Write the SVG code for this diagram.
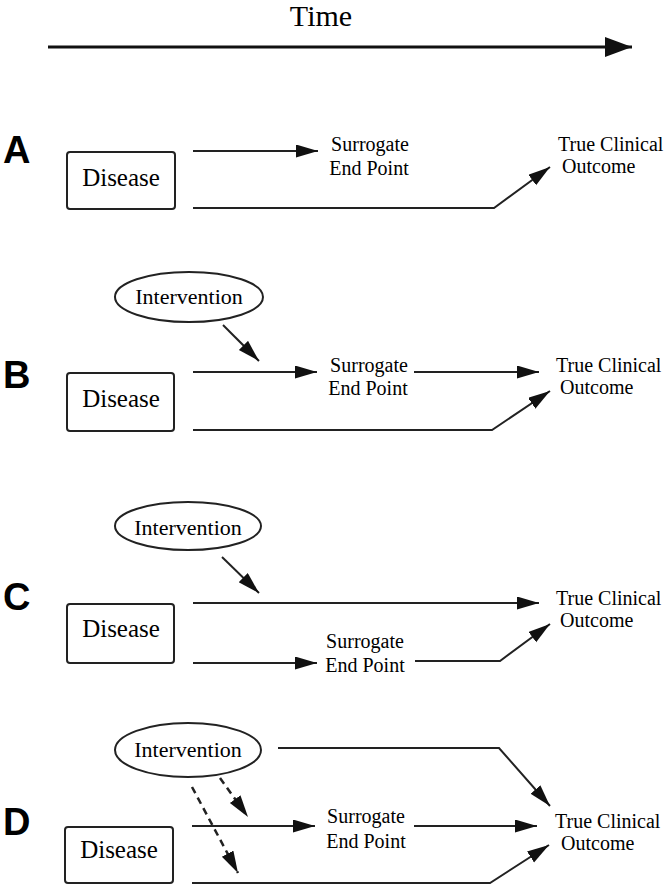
<svg xmlns="http://www.w3.org/2000/svg" width="664" height="891" viewBox="0 0 664 891">
<style>
.ser{font-family:"Liberation Serif","Times New Roman",serif;fill:#000}
.lbl{font-family:"Liberation Sans",Arial,sans-serif;font-weight:bold;font-size:38px;fill:#000}
.dz{font-size:25px;text-anchor:middle}
.iv{font-size:22px;text-anchor:middle}
.sm{font-size:20px}
.mid{text-anchor:middle}
.box{fill:#fff;stroke:#222;stroke-width:2}
.ell{fill:#fff;stroke:#222;stroke-width:2}
.ln{fill:none;stroke:#222;stroke-width:2}
.dash{fill:none;stroke:#222;stroke-width:2.5;stroke-dasharray:7 5}
</style>
<defs>
<marker id="ah" markerUnits="userSpaceOnUse" markerWidth="24" markerHeight="14" refX="22" refY="6.5" orient="auto">
<path d="M0,0 L22,6.5 L0,13 z" fill="#111"/>
</marker>
<marker id="big" markerUnits="userSpaceOnUse" markerWidth="30" markerHeight="22" refX="27" refY="10" orient="auto">
<path d="M0,0 L27,10 L0,20 z" fill="#111"/>
</marker>
</defs>

<g id="time">
<text class="ser mid" x="321" y="26" font-size="30">Time</text>
</g>

<g id="labels">
<text class="lbl" x="3" y="163">A</text>
<text class="lbl" x="3" y="388">B</text>
<text class="lbl" x="3" y="610">C</text>
<text class="lbl" x="3" y="835">D</text>
</g>

<g id="nodeA">
<g id="A-disease"><rect class="box" x="67" y="152" width="108" height="57" rx="3"/><text class="ser dz" x="121" y="186">Disease</text></g>
<g id="A-surrogate"><text class="ser sm mid" x="370" y="151">Surrogate</text><text class="ser sm mid" x="369" y="175">End Point</text></g>
<g id="A-outcome"><text class="ser sm" x="558" y="151">True Clinical</text><text class="ser sm" x="562" y="173">Outcome</text></g>
</g>

<g id="nodeB">
<g id="B-intervention"><ellipse class="ell" cx="189" cy="297" rx="74" ry="25"/><text class="ser iv" x="189" y="304">Intervention</text></g>
<g id="B-disease"><rect class="box" x="67" y="373" width="107" height="58" rx="3"/><text class="ser dz" x="121" y="407">Disease</text></g>
<g id="B-surrogate"><text class="ser sm mid" x="369" y="372">Surrogate</text><text class="ser sm mid" x="368" y="395">End Point</text></g>
<g id="B-outcome"><text class="ser sm" x="556" y="372">True Clinical</text><text class="ser sm" x="560" y="394">Outcome</text></g>
</g>

<g id="nodeC">
<g id="C-intervention"><ellipse class="ell" cx="188" cy="526" rx="73" ry="24"/><text class="ser iv" x="188" y="535">Intervention</text></g>
<g id="C-disease"><rect class="box" x="67" y="604" width="107" height="59" rx="3"/><text class="ser dz" x="121" y="637">Disease</text></g>
<g id="C-surrogate"><text class="ser sm mid" x="365" y="648">Surrogate</text><text class="ser sm mid" x="365" y="672">End Point</text></g>
<g id="C-outcome"><text class="ser sm" x="556" y="605">True Clinical</text><text class="ser sm" x="560" y="627">Outcome</text></g>
</g>

<g id="nodeD">
<g id="D-intervention"><ellipse class="ell" cx="188" cy="750" rx="73" ry="27"/><text class="ser iv" x="188" y="757">Intervention</text></g>
<g id="D-disease"><rect class="box" x="65" y="827" width="108" height="56" rx="3"/><text class="ser dz" x="119" y="858">Disease</text></g>
<g id="D-surrogate"><text class="ser sm mid" x="366" y="823">Surrogate</text><text class="ser sm mid" x="366" y="848">End Point</text></g>
<g id="D-outcome"><text class="ser sm" x="555" y="828">True Clinical</text><text class="ser sm" x="561" y="850">Outcome</text></g>
</g>

<g id="connectors">
<path d="M48,47 H632" fill="none" stroke="#111" stroke-width="3" marker-end="url(#big)"/>
<path class="ln" d="M193,151 H318" marker-end="url(#ah)"/>
<path class="ln" d="M193,208 H494 L550,167" marker-end="url(#ah)"/>
<path class="ln" d="M223,325 L259,361" marker-end="url(#ah)"/>
<path class="ln" d="M193,372 H317" marker-end="url(#ah)"/>
<path class="ln" d="M414,372 H539" marker-end="url(#ah)"/>
<path class="ln" d="M193,430 H492 L550,391" marker-end="url(#ah)"/>
<path class="ln" d="M222,557 L259,593" marker-end="url(#ah)"/>
<path class="ln" d="M193,603 H539" stroke="#555" marker-end="url(#ah)"/>
<path class="ln" d="M193,663 H317" marker-end="url(#ah)"/>
<path class="ln" d="M415,661 H500 L550,624" marker-end="url(#ah)"/>
<path class="ln" d="M278,748 H499 L550,806" marker-end="url(#ah)"/>
<path class="dash" d="M220,778 L248,817" marker-end="url(#ah)"/>
<path class="dash" d="M192,787 L238,873" marker-end="url(#ah)"/>
<path class="ln" d="M192,826 H315" marker-end="url(#ah)"/>
<path class="ln" d="M414,826 H537" marker-end="url(#ah)"/>
<path class="ln" d="M192,883 H490 L549,845" marker-end="url(#ah)"/>
</g>
</svg>
